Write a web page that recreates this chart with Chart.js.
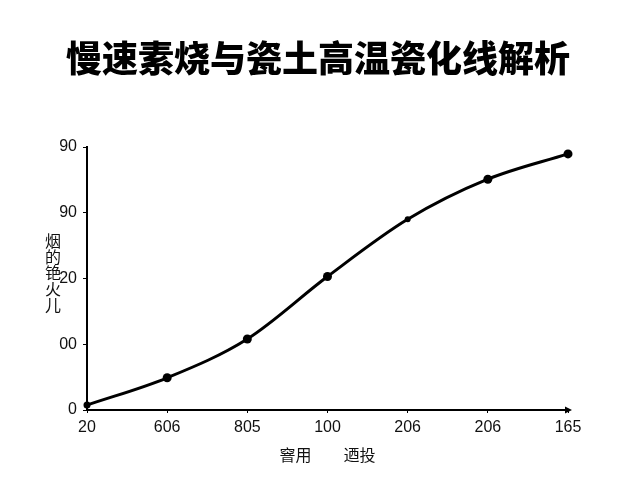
<!DOCTYPE html>
<html>
<head>
<meta charset="utf-8">
<script src="https://cdn.jsdelivr.net/npm/chart.js@4/dist/chart.umd.min.js"></script>
<style>
html,body{margin:0;padding:0;background:#fff;}
#wrap{width:640px;height:480px;}
</style>
</head>
<body>
<div id="wrap"><canvas id="c" width="640" height="480"></canvas></div>
<script>
const chartTitle = "慢速素烧与瓷土高温瓷化线解析";
const xTitle = "窨用　　迺投";
const yTitleChars = ["烟", "的", "铯", "火", "儿"];
const categories = ["20", "606", "805", "100", "206", "206", "165"];
const values = [1.5, 9.8, 21.6, 40.6, 58.0, 70.2, 77.9];
const yTickValues = [0, 20, 40, 60, 80];
const yTickLabels = ["0", "00", "20", "90", "90"];

const FONT = "'Liberation Sans', 'DejaVu Sans', sans-serif";
const CJK = "'Noto Sans CJK SC', sans-serif";

const decor = {
  id: 'decor',
  afterDraw(chart) {
    const ctx = chart.ctx;
    const a = chart.chartArea;
    ctx.save();
    // chart title
    ctx.fillStyle = '#000';
    ctx.font = "900 36px " + CJK;
    ctx.textAlign = 'center';
    ctx.textBaseline = 'middle';
    ctx.fillText(chartTitle, 318, 58);
    // arrow at x-axis end
    ctx.beginPath();
    ctx.moveTo(a.right + 4, a.bottom);
    ctx.lineTo(a.right - 3, a.bottom - 3.5);
    ctx.lineTo(a.right - 3, a.bottom + 3.5);
    ctx.closePath();
    ctx.fill();
    ctx.strokeStyle = '#000';
    ctx.lineWidth = 2;
    ctx.beginPath();
    ctx.moveTo(a.left, a.bottom);
    ctx.lineTo(a.right + 1, a.bottom);
    ctx.stroke();
    // stacked y-axis title
    ctx.fillStyle = '#111';
    ctx.font = "16px " + CJK;
    yTitleChars.forEach((ch, i) => {
      ctx.fillText(ch, 53, 241 + i * 16);
    });
    ctx.restore();
  }
};

new Chart(document.getElementById('c'), {
  type: 'line',
  data: {
    labels: categories,
    datasets: [{
      data: values,
      borderColor: '#000',
      backgroundColor: '#000',
      borderWidth: 3,
      tension: 0.4,
      cubicInterpolationMode: 'monotone',
      pointRadius: [3.5, 4.5, 4.5, 4.5, 3, 4.5, 4.5],
      pointBackgroundColor: '#000',
      pointBorderColor: '#000',
      pointBorderWidth: 0,
      fill: false,
      clip: false
    }]
  },
  options: {
    responsive: false,
    animation: false,
    devicePixelRatio: 1,
    layout: { padding: { left: 0, right: 72, top: 147, bottom: 0 } },
    plugins: {
      legend: { display: false },
      tooltip: { enabled: false },
      title: { display: false }
    },
    scales: {
      x: {
        type: 'category',
        offset: false,
        afterFit(s) { s.height = 70; },
        grid: { display: true, drawOnChartArea: false, drawTicks: true, tickLength: 3, color: '#000', lineWidth: 1 },
        border: { display: true, color: '#000', width: 2 },
        ticks: { color: '#111', font: { family: FONT, size: 16 }, padding: 5, maxRotation: 0, autoSkip: false },
        title: {
          display: true,
          text: xTitle,
          color: '#111',
          font: { family: CJK, size: 16 },
          padding: { top: 4, bottom: 15 }
        }
      },
      y: {
        type: 'linear',
        min: 0,
        max: 80,
        afterFit(s) { s.width = 87; },
        afterBuildTicks(s) { s.ticks = yTickValues.map(v => ({ value: v })); },
        grid: { display: true, drawOnChartArea: false, drawTicks: true, tickLength: 4, color: '#000', lineWidth: 1 },
        border: { display: true, color: '#000', width: 2 },
        ticks: {
          color: '#111',
          font: { family: FONT, size: 16 },
          padding: 6,
          callback(v) {
            const i = yTickValues.indexOf(v);
            return i >= 0 ? yTickLabels[i] : '';
          }
        }
      }
    }
  },
  plugins: [decor]
});
</script>
</body>
</html>
